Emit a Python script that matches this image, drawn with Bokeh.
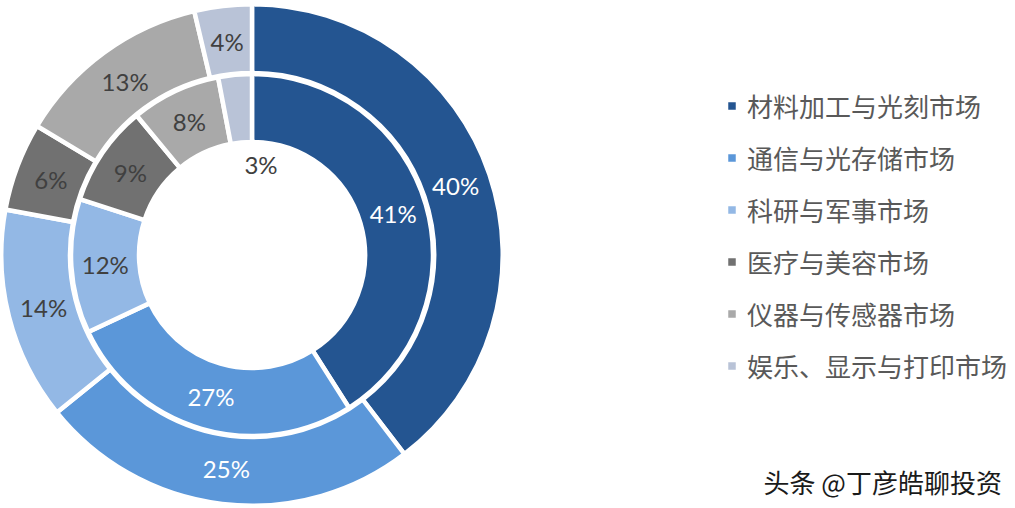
from math import pi, sin, cos

from bokeh.core.properties import value
from bokeh.embed import file_html
from bokeh.models import ColumnDataSource, Legend, LegendItem, Range1d
from bokeh.plotting import figure
from bokeh.resources import INLINE

categories = ["材料加工与光刻市场", "通信与光存储市场", "科研与军事市场", "医疗与美容市场", "仪器与传感器市场", "娱乐、显示与打印市场"]
outer_values = [39.6, 24.6, 13.7, 5.7, 12.7, 3.7]
inner_values = [41, 27, 12, 9, 8, 3]
colors = ["#245591", "#5b97d9", "#93b8e5", "#717171", "#a9a9a9", "#b9c3d7"]
label_colors = ["white", "white", "#404040", "#404040", "#404040", "#404040"]
watermark = "头条 @丁彦皓聊投资"

WIDTH = 1015
HEIGHT = 508
center_x = 251.5
center_y = HEIGHT - 254.5


def ring_source(values, label_radius):
    total = sum(values)
    start, end, label_x, label_y = [], [], [], []
    done = 0
    for v in values:
        a0 = pi / 2 - 2 * pi * done / total
        a1 = pi / 2 - 2 * pi * (done + v) / total
        mid = (a0 + a1) / 2
        start.append(a1)
        end.append(a0)
        label_x.append(center_x + label_radius * cos(mid))
        label_y.append(center_y + label_radius * sin(mid))
        done += v
    return dict(start=start, end=end, label_x=label_x, label_y=label_y,
                color=colors, text_color=label_colors,
                label=["%.0f%%" % v for v in values])


outer = ring_source(outer_values, 215)
inner = ring_source(inner_values, 147)
# the 3% label was dragged into the hole of the ring
inner["label_x"][5] = center_x + 9
inner["label_y"][5] = center_y + 91

p = figure(width=WIDTH, height=HEIGHT, output_backend="svg", toolbar_location=None,
           x_range=Range1d(0, WIDTH), y_range=Range1d(0, HEIGHT),
           min_border=0, outline_line_color=None)
p.axis.visible = False
p.grid.visible = False

outer_src = ColumnDataSource(outer)
inner_src = ColumnDataSource(inner)

outer_ring = p.annular_wedge(center_x, center_y, inner_radius=182, outer_radius=250.75,
                             start_angle="start", end_angle="end", fill_color="color",
                             line_color="white", line_width=4.5, source=outer_src)
p.annular_wedge(center_x, center_y, inner_radius=113, outer_radius=181,
                start_angle="start", end_angle="end", fill_color="color",
                line_color="white", line_width=4.5, source=inner_src)

for src in [outer_src, inner_src]:
    p.text("label_x", "label_y", text="label", text_color="text_color", source=src,
           text_font=value("Lato"), text_font_size="24px", text_align="center", text_baseline="middle")

p.text([763], [HEIGHT - 481], text=[watermark], text_color="#1a1a1a",
       text_font=value("Noto Sans CJK SC"), text_font_size="26px", text_baseline="middle")

items = [LegendItem(label=c, renderers=[outer_ring], index=i) for i, c in enumerate(categories)]
legend = Legend(items=items, location=(724, 124), orientation="vertical",
                background_fill_alpha=0, border_line_color=None, margin=0, padding=0,
                glyph_width=15, glyph_height=15, label_standoff=8, spacing=15, label_height=33,
                label_text_font="Noto Sans CJK SC", label_text_font_size="26px",
                label_text_color="#595959", label_text_baseline="middle")
p.add_layout(legend)

open("out.html", "w").write(file_html(p, INLINE))
